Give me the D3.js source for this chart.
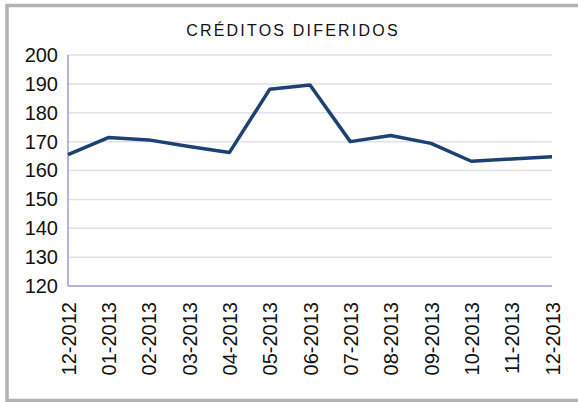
<!DOCTYPE html>
<html>
<head>
<meta charset="utf-8">
<script src="https://cdn.jsdelivr.net/npm/d3@7"></script>
<style>
  body { margin: 0; background: #fff; }
  svg { display: block; }
</style>
</head>
<body>
<div id="chart"></div>
<script>
// data
var months = ["12-2012", "01-2013", "02-2013", "03-2013", "04-2013", "05-2013", "06-2013",
              "07-2013", "08-2013", "09-2013", "10-2013", "11-2013", "12-2013"];
var credits = [165.5, 171.4, 170.6, 168.3, 166.2, 188.1, 189.6, 170.0, 172.1, 169.4, 163.2, 164.0, 164.8];
var yTicks = [120, 130, 140, 150, 160, 170, 180, 190, 200];
var title = "CRÉDITOS DIFERIDOS";

var W = 578, H = 402;
var margin = {top: 55, right: 26, bottom: 116, left: 68};

var svg = d3.select("#chart").append("svg")
  .attr("width", W)
  .attr("height", H);

// outer frame
svg.append("rect")
  .attr("x", 7).attr("y", 5.5)
  .attr("width", W).attr("height", H - 5.5 - 1.5)
  .attr("fill", "#fff")
  .attr("stroke", "#b3b3b3")
  .attr("stroke-width", 3.5);

var x = d3.scalePoint()
  .domain(months)
  .range([margin.left, W - margin.right]);

var y = d3.scaleLinear()
  .domain([120, 200])
  .range([H - margin.bottom, margin.top]);

// gridlines
svg.append("g")
  .selectAll("line")
  .data(yTicks.slice(1))
  .enter().append("line")
  .attr("x1", margin.left).attr("x2", W - margin.right)
  .attr("y1", function(d) { return y(d); })
  .attr("y2", function(d) { return y(d); })
  .attr("stroke", "#e1e1ea")
  .attr("stroke-width", 1.5);

// y axis labels
var yAxis = d3.axisLeft(y).tickValues(yTicks).tickSize(0).tickPadding(10);
var gy = svg.append("g")
  .attr("transform", "translate(" + margin.left + ",0)")
  .call(yAxis);
gy.select(".domain").remove();
gy.selectAll("text")
  .attr("font-family", "Liberation Sans, Arial, sans-serif")
  .attr("font-size", 20)
  .attr("fill", "#111");

// x axis labels
var xAxis = d3.axisBottom(x).tickSize(0).tickPadding(0);
var gx = svg.append("g")
  .attr("transform", "translate(0," + (H - margin.bottom) + ")")
  .call(xAxis);
gx.select(".domain").remove();
gx.selectAll("text")
  .attr("font-family", "Liberation Sans, Arial, sans-serif")
  .attr("font-size", 20)
  .attr("fill", "#111")
  .attr("text-anchor", "end")
  .attr("transform", "rotate(-90)")
  .attr("x", -16)
  .attr("y", 0)
  .attr("dy", "0.36em");

// axis lines
svg.append("line")
  .attr("x1", margin.left).attr("x2", margin.left)
  .attr("y1", margin.top).attr("y2", H - margin.bottom)
  .attr("stroke", "#9d9dcc").attr("stroke-width", 1.5);
svg.append("line")
  .attr("x1", margin.left).attr("x2", W - margin.right)
  .attr("y1", H - margin.bottom).attr("y2", H - margin.bottom)
  .attr("stroke", "#9d9dcc").attr("stroke-width", 1.5);

// the series
var line = d3.line()
  .x(function(d, i) { return x(months[i]); })
  .y(function(d) { return y(d); });

svg.append("path")
  .datum(credits)
  .attr("d", line)
  .attr("fill", "none")
  .attr("stroke", "#1b4272")
  .attr("stroke-width", 3.5)
  .attr("stroke-linejoin", "round");

// title
svg.append("text")
  .attr("x", 293).attr("y", 36)
  .attr("text-anchor", "middle")
  .attr("font-family", "Liberation Sans, Arial, sans-serif")
  .attr("font-size", 16)
  .attr("letter-spacing", 2.2)
  .attr("fill", "#111")
  .text(title);
</script>
</body>
</html>
